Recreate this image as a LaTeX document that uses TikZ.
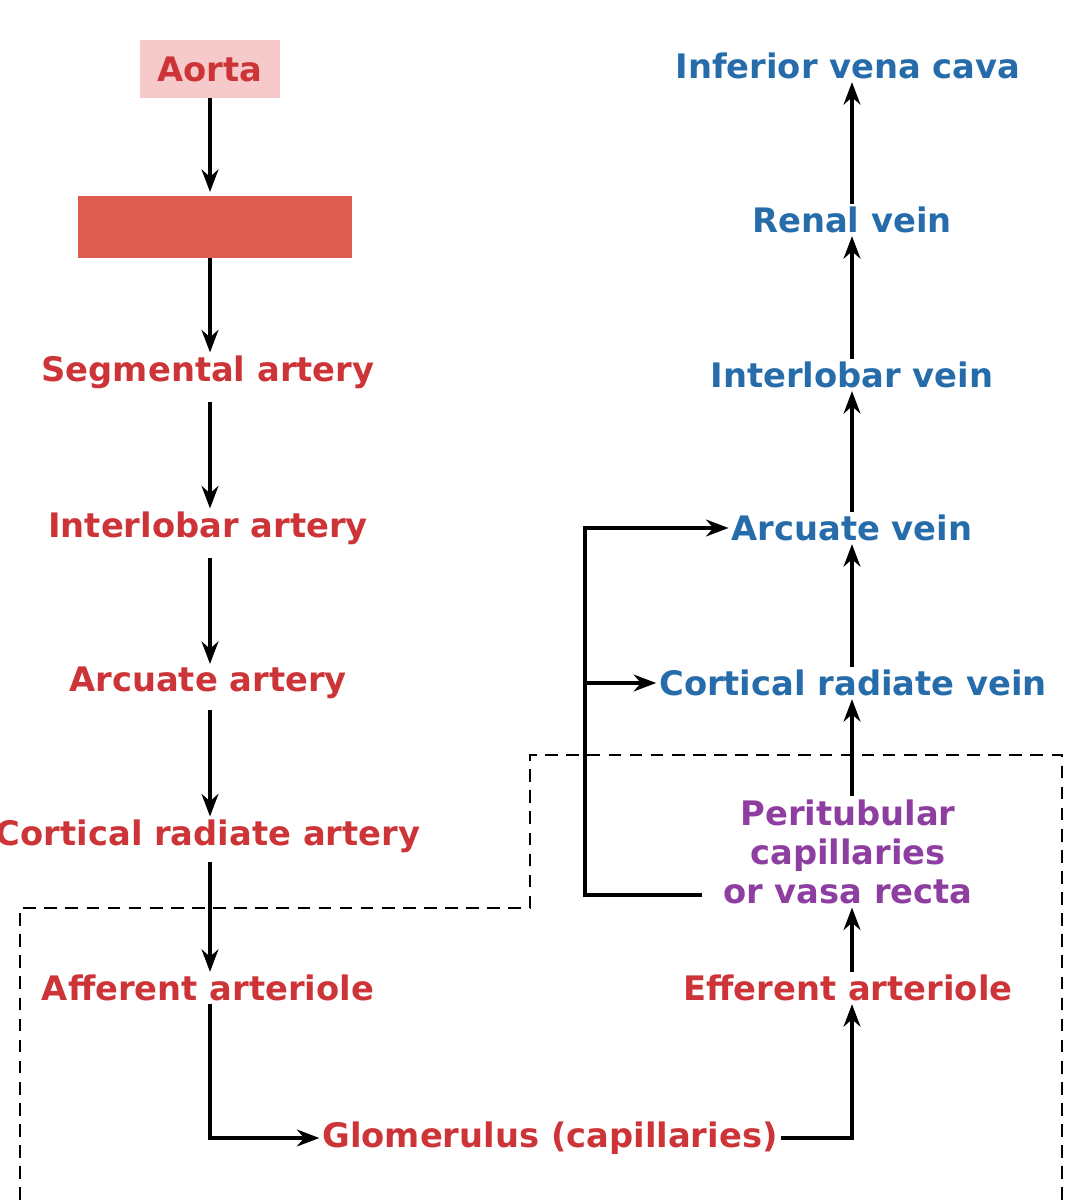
\documentclass[tikz,border=0pt]{standalone}
\usepackage{fontspec}
\setmainfont{DejaVu Sans}
\usetikzlibrary{arrows.meta}
\definecolor{art}{RGB}{204,52,56}
\definecolor{vein}{RGB}{38,108,170}
\definecolor{purp}{RGB}{142,62,160}
\definecolor{pinkbox}{RGB}{246,202,202}
\definecolor{bar}{RGB}{222,92,82}
\begin{document}
\begin{tikzpicture}[x=0.025cm,y=-0.025cm,
  lab/.style={font=\bfseries\fontsize{24}{28}\selectfont,inner sep=2pt},
  a/.style={lab,text=art},
  v/.style={lab,text=vein},
  arr/.style={line width=2.4pt,-{Stealth[length=16pt,width=12pt]}},
  dsh/.style={line width=1.8pt,dash pattern=on 9pt off 6pt}]
\useasboundingbox (0,0) rectangle (1072,1200);
\node[a,fill=pinkbox,minimum width=3.5cm,minimum height=1.45cm] (aorta) at (210,69) {Aorta};
\fill[bar] (78,196) rectangle (352,258);
\coordinate (bartop) at (210,192);
\coordinate (barbot) at (210,258);
\node[a] (seg) at (208,372) {Segmental artery};
\node[a] (ila) at (208,528) {Interlobar artery};
\node[a] (arca) at (208,683) {Arcuate artery};
\node[a] (cra) at (208,836) {Cortical radiate artery};
\node[a] (aff) at (208,988) {Afferent arteriole};
\node[a] (glom) at (550,1138) {Glomerulus (capillaries)};
\node[v] (ivc) at (848,66) {Inferior vena cava};
\node[v] (rv) at (852,220) {Renal vein};
\node[v] (ilv) at (852,375) {Interlobar vein};
\node[v] (arcv) at (852,528) {Arcuate vein};
\node[v] (crv) at (853,683) {Cortical radiate vein};
\node[lab,text=purp,align=center,font=\bfseries\fontsize{24}{28}\selectfont] (peri) at (848,852) {Peritubular\\capillaries\\or vasa recta};
\node[a] (eff) at (848,988) {Efferent arteriole};
\draw[dsh] (20,1200) -- (20,908) -- (530,908) -- (530,755) -- (1062,755) -- (1062,1200);
\draw[arr] (210,98) -- (bartop);
\draw[arr] (barbot) -- (seg.north -| 210,0);
\draw[arr] (210,402) -- (ila.north -| 210,0);
\draw[arr] (210,558) -- (arca.north -| 210,0);
\draw[arr] (210,710) -- (cra.north -| 210,0);
\draw[arr] (210,862) -- (aff.north -| 210,0);
\draw[arr] (aff.south -| 210,0) |- (glom.west);
\draw[arr] (glom.east) -| (eff.south -| 852,0);
\draw[arr] (eff.north -| 852,0) -- (peri.south -| 852,0);
\draw[arr] (peri.north -| 852,0) -- (crv.south -| 852,0);
\draw[arr] (crv.north -| 852,0) -- (arcv.south -| 852,0);
\draw[arr] (arcv.north -| 852,0) -- (ilv.south -| 852,0);
\draw[arr] (ilv.north -| 852,0) -- (rv.south -| 852,0);
\draw[arr] (rv.north -| 852,0) -- (ivc.south -| 852,0);
\coordinate (fbstart) at (702,895);
\coordinate (fb) at (585,683);
\draw[arr] (fbstart) -| (585,528) -- (arcv.west);
\draw[arr] (fb) -- (crv.west);
\end{tikzpicture}
\end{document}
